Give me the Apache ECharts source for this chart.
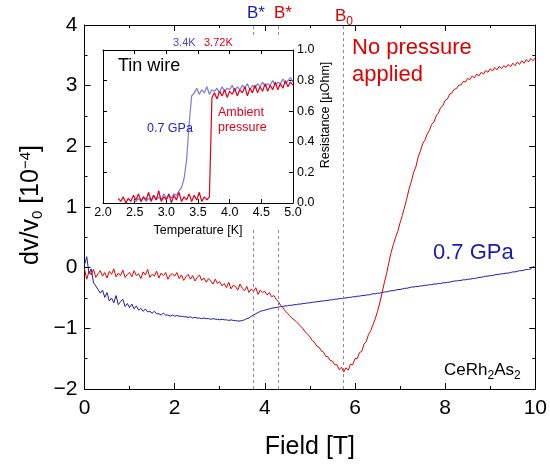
<!DOCTYPE html>
<html>
<head>
<meta charset="utf-8">
<script src="https://cdn.jsdelivr.net/npm/echarts@6/dist/echarts.min.js"></script>
<style>
  html, body { margin: 0; padding: 0; background: #fff; }
  #chart { width: 550px; height: 465px; }
</style>
</head>
<body>
<div id="chart"></div>
<script>
// Sound velocity change dv/v0 of CeRh2As2 versus magnetic field (step 0.05 T from 0 T)
const fieldStart = 0;
const fieldStep = 0.05;

// No pressure applied
const dvAmbient = [
  -0.02,-0.19,-0.06,-0.12,-0.03,-0.16,-0.10,-0.05,-0.14,-0.08,-0.17,-0.06,-0.11,-0.02,-0.15,-0.09,-0.13,-0.04,-0.16,-0.11,
  -0.08,-0.15,-0.05,-0.13,-0.10,-0.18,-0.07,-0.12,-0.03,-0.16,-0.11,-0.14,-0.06,-0.17,-0.09,-0.13,-0.08,-0.19,-0.12,-0.10,
  -0.14,-0.08,-0.18,-0.12,-0.21,-0.15,-0.11,-0.19,-0.13,-0.22,-0.16,-0.12,-0.21,-0.17,-0.24,-0.18,-0.22,-0.27,-0.19,-0.26,
  -0.23,-0.30,-0.26,-0.33,-0.24,-0.35,-0.29,-0.31,-0.37,-0.27,-0.34,-0.38,-0.31,-0.41,-0.35,-0.39,-0.33,-0.44,-0.37,-0.41,
  -0.39,-0.45,-0.41,-0.48,-0.46,-0.52,-0.56,-0.62,-0.66,-0.71,-0.75,-0.79,-0.83,-0.86,-0.89,-0.93,-0.97,-1.01,-1.06,-1.10,
  -1.14,-1.20,-1.23,-1.29,-1.31,-1.37,-1.39,-1.46,-1.47,-1.53,-1.54,-1.60,-1.60,-1.68,-1.64,-1.72,-1.65,-1.69,-1.59,-1.60,
  -1.50,-1.50,-1.40,-1.38,-1.26,-1.22,-1.10,-1.04,-0.94,-0.84,-0.72,-0.58,-0.42,-0.25,-0.10,0.08,0.25,0.38,0.50,0.60,
  0.74,0.86,1.00,1.14,1.30,1.42,1.57,1.66,1.82,1.92,2.04,2.10,2.20,2.26,2.36,2.40,2.50,2.55,2.64,2.67,
  2.76,2.78,2.86,2.88,2.94,2.95,3.01,3.01,3.07,3.06,3.12,3.10,3.16,3.13,3.19,3.16,3.22,3.19,3.25,3.22,
  3.28,3.24,3.30,3.26,3.32,3.28,3.33,3.30,3.35,3.31,3.37,3.33,3.39,3.35,3.41,3.37,3.43,3.39,3.45,3.41,
  3.46
];

// 0.7 GPa
const dvPressure = [
  0.05,0.18,-0.10,-0.02,-0.25,-0.30,-0.36,-0.42,-0.37,-0.49,-0.41,-0.55,-0.50,-0.58,-0.46,-0.61,-0.56,-0.52,-0.64,-0.59,
  -0.66,-0.60,-0.68,-0.63,-0.70,-0.67,-0.72,-0.68,-0.73,-0.72,-0.75,-0.72,-0.76,-0.76,-0.78,-0.75,-0.78,-0.78,-0.80,-0.78,
  -0.80,-0.79,-0.80,-0.80,-0.81,-0.81,-0.82,-0.81,-0.83,-0.82,-0.83,-0.83,-0.84,-0.83,-0.84,-0.84,-0.85,-0.84,-0.85,-0.85,
  -0.86,-0.85,-0.86,-0.86,-0.87,-0.86,-0.87,-0.87,-0.88,-0.88,-0.87,-0.86,-0.84,-0.83,-0.80,-0.78,-0.76,-0.74,-0.72,-0.71,
  -0.70,-0.69,-0.68,-0.67,-0.66,-0.66,-0.65,-0.64,-0.64,-0.63,-0.63,-0.62,-0.62,-0.61,-0.61,-0.60,-0.60,-0.59,-0.59,-0.58,
  -0.58,-0.57,-0.57,-0.56,-0.56,-0.55,-0.55,-0.54,-0.54,-0.53,-0.53,-0.52,-0.52,-0.51,-0.51,-0.50,-0.50,-0.49,-0.49,-0.48,
  -0.48,-0.47,-0.47,-0.46,-0.46,-0.45,-0.45,-0.44,-0.43,-0.43,-0.42,-0.42,-0.41,-0.40,-0.40,-0.39,-0.38,-0.38,-0.37,-0.36,
  -0.36,-0.35,-0.34,-0.34,-0.33,-0.32,-0.32,-0.31,-0.31,-0.30,-0.30,-0.29,-0.29,-0.28,-0.28,-0.27,-0.27,-0.26,-0.26,-0.25,
  -0.25,-0.24,-0.24,-0.23,-0.22,-0.22,-0.21,-0.21,-0.20,-0.20,-0.19,-0.19,-0.18,-0.18,-0.17,-0.16,-0.16,-0.15,-0.14,-0.14,
  -0.13,-0.13,-0.12,-0.11,-0.11,-0.10,-0.10,-0.09,-0.09,-0.08,-0.07,-0.07,-0.06,-0.05,-0.05,-0.04,-0.03,-0.03,-0.02,0.02,
  0.00
];

// Characteristic fields [T]
const bStarPressure = 3.75;
const bStarAmbient = 4.3;
const bZero = 5.75;

// Tin wire resistance [µOhm] versus temperature [K] (step 0.04 K)
const tinStep = 0.04;
const tinAmbientStart = 2.24;
const tinAmbient = [
  0.03,0.01,0.04,0.00,0.03,0.01,0.05,0.02,0.06,0.01,
  0.04,0.02,0.07,0.01,0.05,0.02,0.08,0.01,0.04,0.02,
  0.06,0.00,0.05,0.02,0.07,0.01,0.04,0.02,0.06,0.01,
  0.05,0.02,0.07,0.01,0.04,0.02,0.04,0.69,0.72,0.68,
  0.73,0.70,0.74,0.69,0.73,0.71,0.75,0.70,0.74,0.72,
  0.76,0.70,0.75,0.72,0.77,0.72,0.76,0.73,0.78,0.73,
  0.77,0.74,0.79,0.74,0.78,0.75,0.80,0.76,0.79,0.77
];
const tinPressureStart = 2.48;
const tinPressure = [
  0.02,0.01,0.03,0.01,0.04,0.01,0.03,0.02,0.05,0.02,
  0.04,0.02,0.06,0.03,0.05,0.03,0.06,0.05,0.08,0.10,
  0.16,0.28,0.52,0.70,0.72,0.75,0.71,0.74,0.72,0.76,
  0.71,0.74,0.73,0.75,0.72,0.76,0.73,0.75,0.74,0.77,
  0.73,0.76,0.74,0.77,0.75,0.78,0.74,0.77,0.75,0.78,
  0.76,0.79,0.76,0.78,0.77,0.80,0.77,0.79,0.78,0.81,
  0.78,0.80,0.82,0.79
];
const tcPressure = 3.4;
const tcAmbient = 3.72;

const FONT = '"Liberation Sans", Arial, sans-serif';
const RED = '#dd0000';
const NAVY = '#1c1ca6';

function toPairs(start, step, values) {
  return values.map((v, i) => [+(start + i * step).toFixed(3), v]);
}
const minus = v => String(v).replace('-', '\u2212');

const chart = echarts.init(document.getElementById('chart'), null, { renderer: 'canvas' });

const frameAxis = {
  type: 'value',
  axisLine: { onZero: false, lineStyle: { color: '#000', width: 1 } },
  axisTick: { inside: true, length: 6, lineStyle: { color: '#000' } },
  minorTick: { show: true, splitNumber: 2, length: 3, lineStyle: { color: '#000' } },
  splitLine: { show: false },
  minorSplitLine: { show: false }
};
const insetAxis = {
  type: 'value',
  z: 20,
  axisLine: { onZero: false, lineStyle: { color: '#000', width: 1 } },
  axisTick: { inside: true, length: 4, lineStyle: { color: '#000' } },
  splitLine: { show: false }
};

// rich-text helper: normal, subscript and superscript runs
function richStyles(size, subSize, color, subDrop) {
  return {
    n: { fontSize: size, lineHeight: size, fontFamily: FONT, fill: color, color: color, verticalAlign: 'top' },
    s: { fontSize: subSize, lineHeight: subSize, fontFamily: FONT, fill: color, color: color, verticalAlign: 'top', padding: [subDrop, 0, 0, 0] },
    p: { fontSize: subSize, lineHeight: subSize, fontFamily: FONT, fill: color, color: color, verticalAlign: 'top', padding: [0, 0, 0, 0] }
  };
}

const option = {
  animation: false,
  backgroundColor: '#fff',
  textStyle: { fontFamily: FONT },
  grid: [
    { left: 84.5, top: 25, right: 12, bottom: 75 },
    { left: 103, top: 50, width: 190, height: 153, z: 20 }
  ],
  xAxis: [
    Object.assign({}, frameAxis, {
      gridIndex: 0, position: 'bottom', min: 0, max: 10, interval: 2,
      axisLabel: { fontSize: 21, color: '#000', margin: 9, fontFamily: FONT },
      name: 'Field [T]', nameLocation: 'middle', nameGap: 46,
      nameTextStyle: { fontSize: 25, color: '#000', fontFamily: FONT }
    }),
    Object.assign({}, frameAxis, {
      gridIndex: 0, position: 'top', min: 0, max: 10, interval: 2,
      axisLabel: { show: false }
    }),
    Object.assign({}, insetAxis, {
      gridIndex: 1, position: 'bottom', min: 2, max: 5, interval: 0.5,
      axisLabel: { fontSize: 12.5, color: '#000', margin: 3, fontFamily: FONT, formatter: v => v.toFixed(1) },
      name: 'Temperature [K]', nameLocation: 'middle', nameGap: 21,
      nameTextStyle: { fontSize: 12.5, color: '#000', fontFamily: FONT }
    }),
    Object.assign({}, insetAxis, {
      gridIndex: 1, position: 'top', min: 2, max: 5, interval: 0.5,
      axisLabel: { show: false }
    })
  ],
  yAxis: [
    Object.assign({}, frameAxis, {
      gridIndex: 0, position: 'left', min: -2, max: 4, interval: 1,
      axisLabel: { fontSize: 21, color: '#000', margin: 7, fontFamily: FONT, formatter: minus }
    }),
    Object.assign({}, frameAxis, {
      gridIndex: 0, position: 'right', min: -2, max: 4, interval: 1,
      axisLabel: { show: false }
    }),
    Object.assign({}, insetAxis, {
      gridIndex: 1, position: 'right', min: 0, max: 1, interval: 0.2,
      axisLabel: { fontSize: 12.5, color: '#000', margin: 4, fontFamily: FONT, formatter: v => v.toFixed(1) }
    }),
    Object.assign({}, insetAxis, {
      gridIndex: 1, position: 'left', min: 0, max: 1, interval: 0.2,
      axisLabel: { show: false }
    })
  ],
  series: [
    {
      name: '0.7 GPa', type: 'line', xAxisIndex: 0, yAxisIndex: 0, z: 2,
      data: toPairs(fieldStart, fieldStep, dvPressure),
      showSymbol: false, symbol: 'none',
      lineStyle: { color: NAVY, width: 1 },
      markLine: {
        silent: true, symbol: 'none', label: { show: false },
        lineStyle: { color: '#8a8a8a', type: [3, 3], width: 1 },
        data: [{ xAxis: bStarPressure }, { xAxis: bStarAmbient }, { xAxis: bZero }]
      }
    },
    {
      name: 'No pressure applied', type: 'line', xAxisIndex: 0, yAxisIndex: 0, z: 3,
      data: toPairs(fieldStart, fieldStep, dvAmbient),
      showSymbol: false, symbol: 'none',
      lineStyle: { color: RED, width: 1 }
    },
    {
      name: 'Tin 0.7 GPa', type: 'line', xAxisIndex: 2, yAxisIndex: 2, z: 25,
      data: toPairs(tinPressureStart, tinStep, tinPressure),
      showSymbol: false, symbol: 'none',
      lineStyle: { color: '#7a7ae0', width: 1.2 }
    },
    {
      name: 'Tin ambient', type: 'line', xAxisIndex: 2, yAxisIndex: 2, z: 26,
      data: toPairs(tinAmbientStart, tinStep, tinAmbient),
      showSymbol: false, symbol: 'none',
      lineStyle: { color: '#e0001a', width: 1.2 },
      markLine: {
        silent: true, symbol: 'none', label: { show: false },
        lineStyle: { type: [1, 2], width: 1 },
        data: [
          { xAxis: tcPressure, lineStyle: { color: '#c4c4c4' } },
          { xAxis: tcAmbient, lineStyle: { color: '#8c8c8c' } }
        ]
      }
    }
  ],
  graphic: [
    // backdrop of the inset panel
    { type: 'rect', z: 10, shape: { x: 95, y: 36, width: 240, height: 194 }, style: { fill: '#fff' } },
    // main y-axis title
    { type: 'text', z: 30, x: 31, y: 205, rotation: Math.PI / 2, style: {
        text: '{n|dv/v}{s|0}{n| [10}{p|\u22124}{n|]}', align: 'center', verticalAlign: 'middle',
        textAlign: 'center', textVerticalAlign: 'middle',
        rich: richStyles(25, 15, '#000', 12)
      } },
    // inset y-axis title
    { type: 'text', z: 30, x: 326, y: 115, rotation: Math.PI / 2, style: {
        text: 'Resistance [\u00b5Ohm]', fill: '#000', font: '12.5px ' + FONT,
        align: 'center', verticalAlign: 'middle', textAlign: 'center', textVerticalAlign: 'middle'
      } },
    { type: 'text', z: 30, x: 352, y: 48, style: { text: 'No pressure', fill: RED, font: '22px ' + FONT, verticalAlign: 'middle', textVerticalAlign: 'middle' } },
    { type: 'text', z: 30, x: 352, y: 75, style: { text: 'applied', fill: RED, font: '22px ' + FONT, verticalAlign: 'middle', textVerticalAlign: 'middle' } },
    { type: 'text', z: 30, x: 433, y: 253, style: { text: '0.7 GPa', fill: NAVY, font: '22px ' + FONT, verticalAlign: 'middle', textVerticalAlign: 'middle' } },
    { type: 'text', z: 30, x: 444, y: 370, style: {
        text: '{n|CeRh}{s|2}{n|As}{s|2}', verticalAlign: 'middle', textVerticalAlign: 'middle',
        rich: richStyles(17, 12, '#000', 8)
      } },
    { type: 'text', z: 30, x: 247, y: 13, style: { text: 'B*', fill: NAVY, font: '17px ' + FONT, verticalAlign: 'middle', textVerticalAlign: 'middle' } },
    { type: 'text', z: 30, x: 274, y: 13, style: { text: 'B*', fill: RED, font: '17px ' + FONT, verticalAlign: 'middle', textVerticalAlign: 'middle' } },
    { type: 'text', z: 30, x: 335, y: 16, style: {
        text: '{n|B}{s|0}', verticalAlign: 'middle', textVerticalAlign: 'middle',
        rich: richStyles(17, 12, RED, 8)
      } },
    { type: 'text', z: 30, x: 118, y: 66, style: { text: 'Tin wire', fill: '#000', font: '18px ' + FONT, verticalAlign: 'middle', textVerticalAlign: 'middle' } },
    { type: 'text', z: 30, x: 147, y: 129, style: { text: '0.7 GPa', fill: '#2424c0', font: '12.5px ' + FONT, verticalAlign: 'middle', textVerticalAlign: 'middle' } },
    { type: 'text', z: 30, x: 218, y: 113, style: { text: 'Ambient', fill: '#e0001a', font: '12.5px ' + FONT, verticalAlign: 'middle', textVerticalAlign: 'middle' } },
    { type: 'text', z: 30, x: 218, y: 128, style: { text: 'pressure', fill: '#e0001a', font: '12.5px ' + FONT, verticalAlign: 'middle', textVerticalAlign: 'middle' } },
    { type: 'text', z: 30, x: 173, y: 43, style: { text: '3.4K', fill: '#4848c0', font: '11px ' + FONT, verticalAlign: 'middle', textVerticalAlign: 'middle' } },
    { type: 'text', z: 30, x: 204, y: 43, style: { text: '3.72K', fill: '#e0001a', font: '11px ' + FONT, verticalAlign: 'middle', textVerticalAlign: 'middle' } }
  ]
};

chart.setOption(option);
</script>
</body>
</html>
